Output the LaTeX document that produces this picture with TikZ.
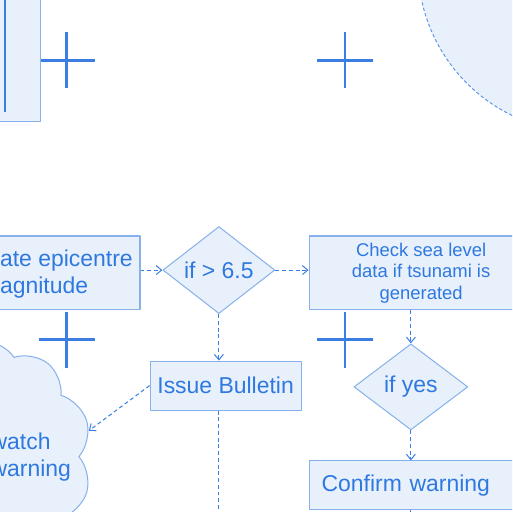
\documentclass[tikz,border=0pt]{standalone}
\usepackage{fontspec}
\setmainfont{Liberation Sans}
\usetikzlibrary{shapes.geometric,shapes.symbols,arrows.meta}
\definecolor{nen}{HTML}{E8F1FB}
\definecolor{vien}{HTML}{86B1EA}
\definecolor{chu}{HTML}{2E78E0}
\definecolor{net}{HTML}{3A7EE4}
\begin{document}
\begin{tikzpicture}[line width=0.9pt, font={\fontsize{20.4pt}{23.9pt}\selectfont}, line join=round, >={Straight Barb[length=1.7mm,width=2.8mm]},
	box/.style={draw=vien, fill=nen, text=chu, inner sep=0pt, align=center},
	choice/.style={diamond, draw=vien, fill=nen, text=chu, inner sep=0pt},
	link/.style={->, draw=net, dash pattern=on 3.5pt off 2.5pt}]
		\useasboundingbox (0,0) rectangle (16,16);
		\clip (0,0) rectangle (16,16);
		% dau cong
		\foreach \x in {2.09,10.78}
		\foreach \y in {14.12,5.38}
		\draw[net, line width=2.6pt] (\x-0.875,\y) -- (\x+0.875,\y) (\x,\y-0.875) -- (\x,\y+0.875);
		% hinh tron, khung trai
		\draw[draw=net!80, fill=nen, dash pattern=on 3pt off 2pt] (18.28,17.09) circle (5.22cm);
		\node[box, minimum width=3.5cm, minimum height=6cm, anchor=south east] (lane) at (1.28,12.19) {};
		\draw[net, line width=1.4pt] (0.16,17) -- (0.16,12.5);
		% cac khung
		\node[box, minimum width=6.59cm, minimum height=2.31cm, text depth=0.1cm] (calc) at (1.08,7.47) {Calculate epicentre\\magnitude};
		\node[choice, minimum width=3.5cm, minimum height=2.72cm] (ifmag) at (6.84,7.56) {if > 6.5};
		\node[box, minimum width=7cm, minimum height=2.31cm, font={\fontsize{16.4pt}{19pt}\selectfont}] (check) at (13.16,7.47) {Check sea level\\data if tsunami is\\generated};
		\node[box, minimum width=4.72cm, minimum height=1.53cm] (bulletin) at (7.05,3.95) {Issue Bulletin};
		\node[choice, minimum width=3.56cm, minimum height=2.69cm] (ifyes) at (12.84,3.91) {if yes};
		\node[box, anchor=west, inner xsep=0.375cm, text width=5.97cm, align=left, minimum height=1.53cm] (confirm) at (9.66,0.83) {Confirm warning};
		\node[cloud, cloud puffs=10, cloud puff arc=115, cloud ignores aspect, draw=vien, fill=nen, text=chu, align=left, inner xsep=-1.2cm, inner ysep=-0.3cm, minimum width=6.69cm, minimum height=7.2cm] (watch) at (-0.47,1.73) {Tsunami watch\\Tsunami warning};
		% mui ten
		\draw[link] (calc.east |- ifmag) -- (ifmag.west);
		\draw[link] (ifmag.east) -- (ifmag.east -| check.west);
		\draw[link] (ifmag.south) -- (ifmag.south |- bulletin.north);
		\coordinate (bulletinout) at (6.84,-0.5);
		\draw[link, -] (ifmag.south |- bulletin.south) -- (bulletinout);
		\draw[link] (bulletin.west) -- (watch.14);
		\draw[link] (ifyes.north |- check.south) -- (ifyes.north);
		\draw[link] (ifyes.south) -- (ifyes.south |- confirm.north);
		\coordinate (confirmout) at (12.84,-0.5);
		\draw[link, -] (ifyes.south |- confirm.south) -- (confirmout);
	\end{tikzpicture}
\end{document}
